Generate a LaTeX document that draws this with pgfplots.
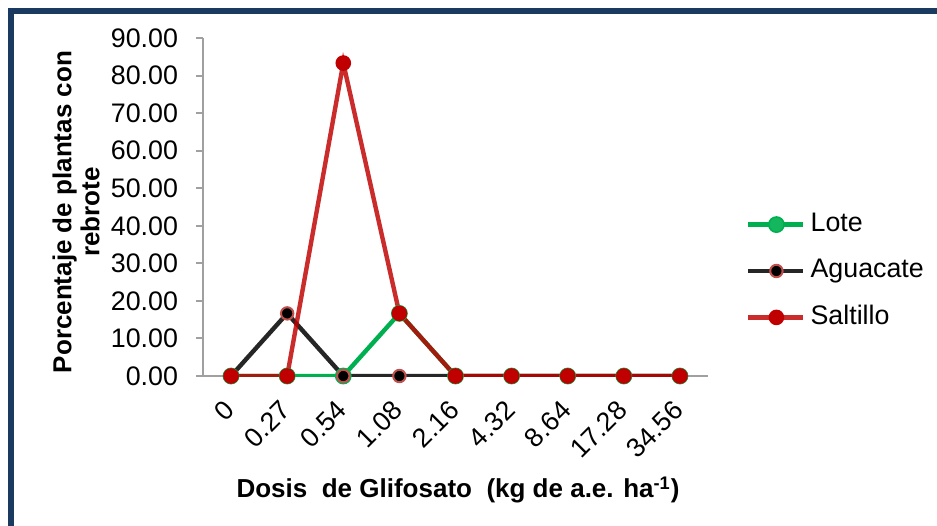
\documentclass[border=0pt]{standalone}
\usepackage{pgfplots}
\pgfplotsset{compat=1.18}
\usepackage{fontspec}
\setmainfont{Liberation Sans}

\definecolor{framecol}{RGB}{27,58,96}
\definecolor{lote}{RGB}{0,176,80}
\definecolor{agualine}{RGB}{38,38,38}
\definecolor{aguaedge}{RGB}{192,80,77}
\definecolor{salt}{RGB}{192,0,0}
\definecolor{axisgray}{RGB}{160,160,160}

\newcommand{\tickfont}{\fontsize{13.4bp}{15bp}\selectfont}
\newcommand{\labfont}{\fontsize{13bp}{14bp}\selectfont\bfseries}

\begin{document}
\begin{tikzpicture}[x=0.5bp,y=-0.5bp]
\useasboundingbox (0,0) rectangle (937,526);
\fill[white] (0,0) rectangle (937,526);
\begin{scope}
  \clip (0,0) rectangle (937,526);
  \draw[framecol, line width=3bp] (11,560) -- (11,11) -- (960,11);
\end{scope}
\begin{axis}[
  at={(101.5bp,-188bp)}, anchor=south west,
  scale only axis, width=252.5bp, height=169bp,
  xmin=-0.5, xmax=8.5, ymin=0, ymax=90,
  axis x line=bottom, axis y line=left,
  axis line style={-, axisgray, line width=1bp},
  xtick={0,...,8},
  xticklabels={0,0.27,0.54,1.08,2.16,4.32,8.64,17.28,34.56},
  x tick style={draw=none},
  ytick={0,10,...,90},
  y tick style={axisgray, line width=1bp},
  tick align=outside, major tick length=3.5bp,
  tick label style={font=\tickfont},
  xticklabel style={rotate=45, anchor=east, xshift=-5bp, yshift=-7.5bp},
  yticklabel style={xshift=-5.5bp},
  /pgf/number format/fixed,
  /pgf/number format/fixed zerofill,
  /pgf/number format/precision=2,
  /pgf/number format/assume math mode=true,
  xlabel={Dosis \ de Glifosato \ (kg de a.e. ha\textsuperscript{-1})},
  xlabel style={font=\labfont, at={(axis description cs:0.505,-0.337)}, anchor=center},
  ylabel={Porcentaje de plantas con\\rebrote},
  ylabel style={font=\labfont, align=center, at={(axis description cs:-0.2515,0.485)}, anchor=center},
  legend style={at={(axis description cs:1.063,0.3107)}, anchor=west,
    draw=none, fill=none, font=\tickfont,
    nodes={inner sep=0pt, text height=9.4bp, text depth=2.6bp, anchor=west},
    row sep=11.2bp, column sep=2.5bp},
  legend cell align=left,
  legend image code/.code={
    \draw[#1, mark=none] (0bp,0bp) -- (27.5bp,0bp);
    \draw[#1] plot coordinates {(14bp,0bp)};
  },
]
% Lote
\addplot[lote, line width=2.2bp, mark=*, mark size=3.8bp,
  mark options={solid, fill=lote!92!white, draw=lote, line width=0.8bp, opacity=1}]
  coordinates {(0,0)(1,0)(2,0)(3,16.67)(4,0)(5,0)(6,0)(7,0)(8,0)};
\addlegendentry{Lote}
% Aguacate
\addplot[agualine, line width=2.2bp, mark=*, mark size=3.1bp,
  mark options={solid, fill=black, draw=aguaedge, line width=1bp, opacity=1}]
  coordinates {(0,0)(1,16.67)(2,0)(3,0)(4,0)(5,0)(6,0)(7,0)(8,0)};
\addlegendentry{Aguacate}
% Saltillo
\addplot[salt, line width=2.2bp, draw opacity=0.83, mark=*, mark size=3.6bp,
  mark options={solid, fill=salt, draw=salt, line width=0.6bp, opacity=1}]
  coordinates {(0,0)(1,0)(2,83.33)(3,16.67)(4,0)(5,0)(6,0)(7,0)(8,0)};
\addlegendentry{Saltillo}
\end{axis}
\end{tikzpicture}
\end{document}
